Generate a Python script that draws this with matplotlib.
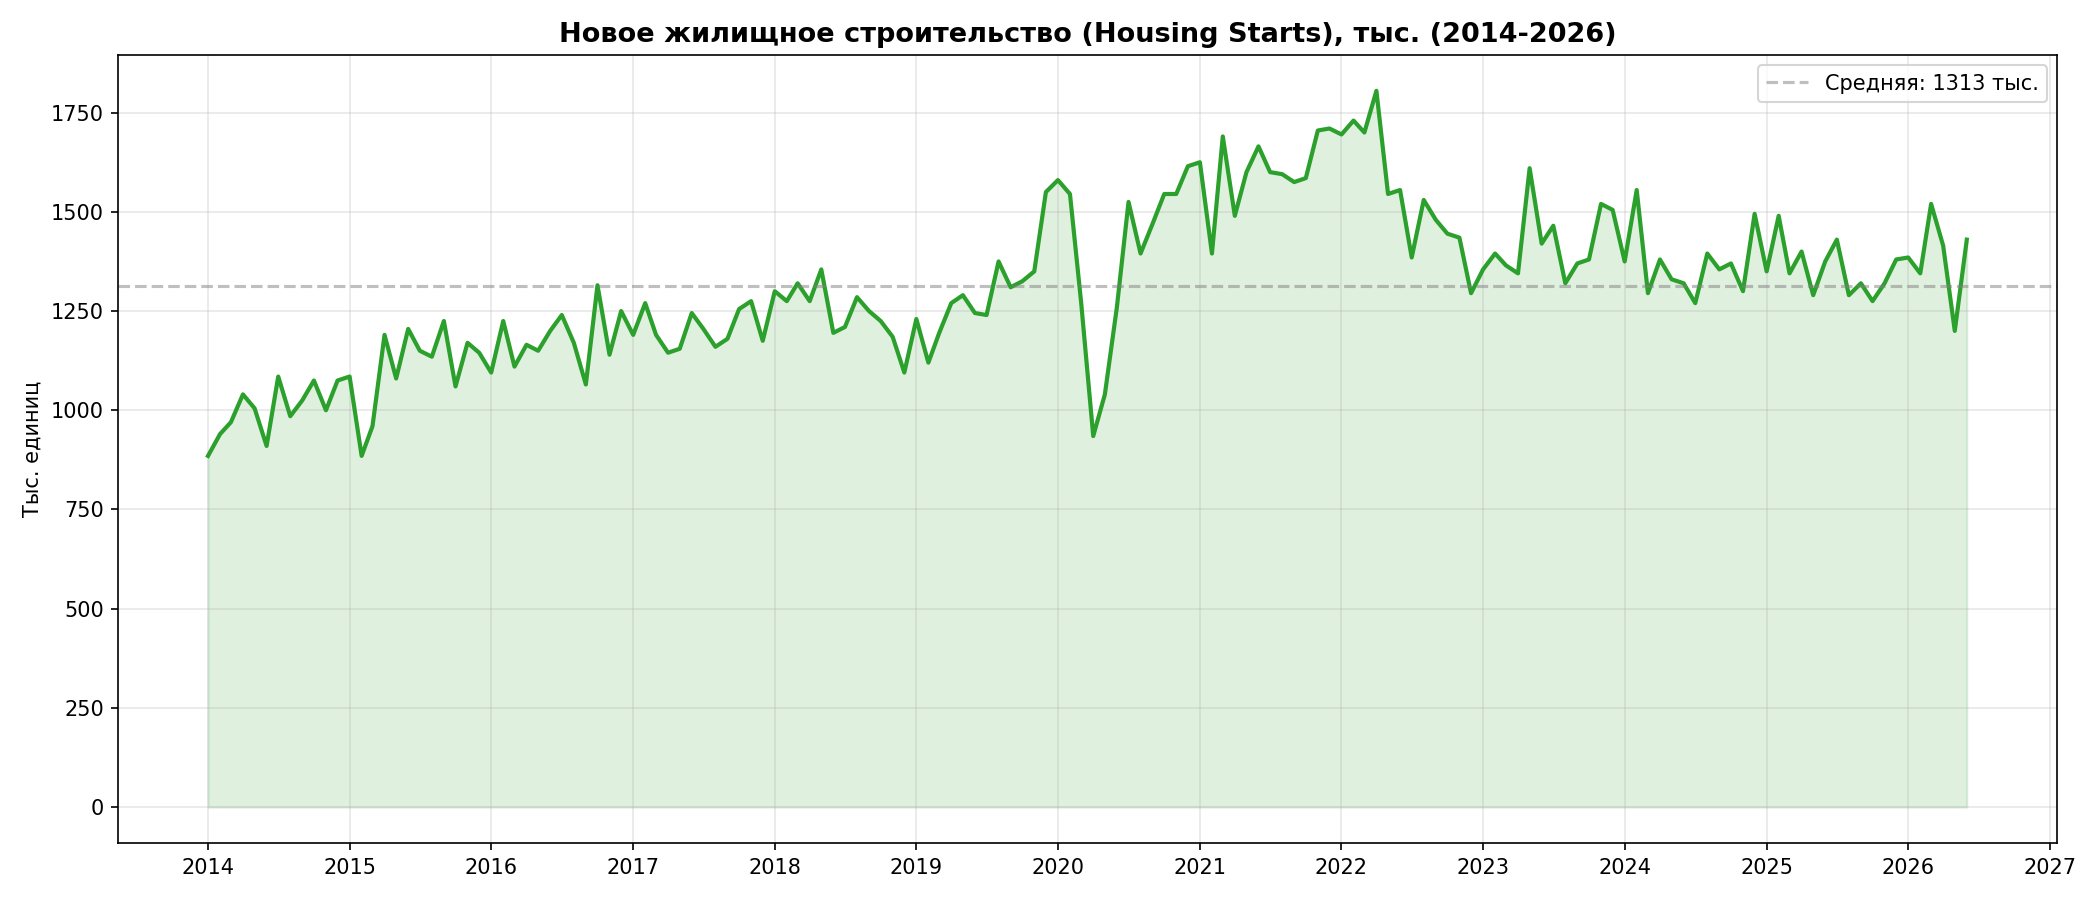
import matplotlib
matplotlib.use("Agg")
import matplotlib.pyplot as plt
import matplotlib.dates as mdates
import pandas as pd

values = [
 885, 940, 970, 1040, 1005, 910, 1085, 985, 1025, 1075, 1000, 1075,
 1085, 885, 960, 1190, 1080, 1205, 1150, 1135, 1225, 1060, 1170, 1145,
 1095, 1225, 1110, 1165, 1150, 1200, 1240, 1170, 1065, 1315, 1140, 1250,
 1190, 1270, 1190, 1145, 1155, 1245, 1205, 1160, 1180, 1255, 1275, 1175,
 1300, 1275, 1320, 1275, 1355, 1195, 1210, 1285, 1250, 1225, 1185, 1095,
 1230, 1120, 1195, 1270, 1290, 1245, 1240, 1375, 1310, 1325, 1350, 1550,
 1580, 1545, 1270, 935, 1040, 1260, 1525, 1395, 1470, 1545, 1545, 1615,
 1625, 1395, 1690, 1490, 1600, 1665, 1600, 1595, 1575, 1585, 1705, 1710,
 1695, 1730, 1700, 1805, 1545, 1555, 1385, 1530, 1480, 1445, 1435, 1295,
 1355, 1395, 1365, 1345, 1610, 1420, 1465, 1320, 1370, 1380, 1520, 1505,
 1375, 1555, 1295, 1380, 1330, 1320, 1270, 1395, 1355, 1370, 1300, 1495,
 1350, 1490, 1345, 1400, 1290, 1375, 1430, 1290, 1320, 1275, 1320, 1380,
 1385, 1345, 1520, 1415, 1200, 1430,
]
dates = pd.date_range("2014-01-01", periods=len(values), freq="MS")
mean_value = 1313

fig, ax = plt.subplots(figsize=(14, 6), dpi=150)
ax.plot(dates, values, color="#2ca02c", lw=2)
ax.fill_between(dates, values, 0, color="#2ca02c", alpha=0.15)
ax.axhline(mean_value, color="gray", ls="--", alpha=0.5, label=f"Средняя: {mean_value} тыс.")
ax.set_title("Новое жилищное строительство (Housing Starts), тыс. (2014-2026)", fontsize=13, fontweight="bold")
ax.set_ylabel("Тыс. единиц")
ax.grid(True, alpha=0.3)
ax.legend(loc="upper right")
ax.xaxis.set_major_locator(mdates.YearLocator())
ax.xaxis.set_major_formatter(mdates.DateFormatter("%Y"))
ax.set_xlim(pd.Timestamp("2013-05-15"), pd.Timestamp("2027-01-20"))
fig.tight_layout()
fig.savefig("out.png")
